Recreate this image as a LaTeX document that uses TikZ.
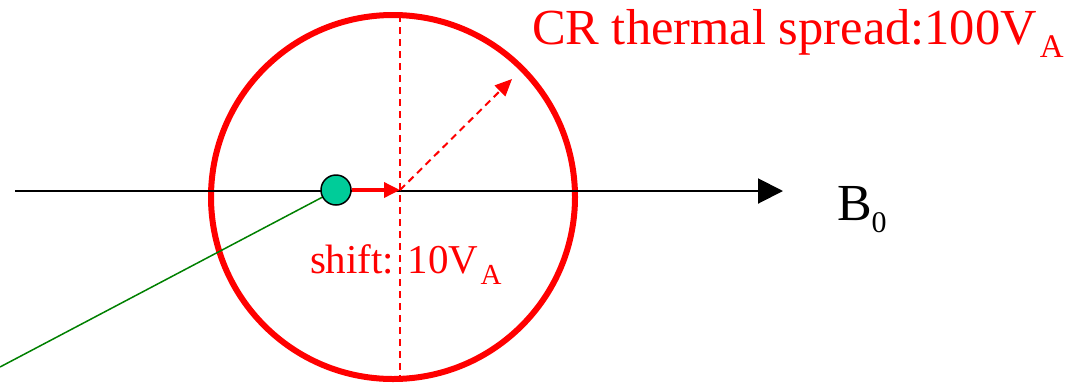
\documentclass[tikz,border=0pt]{standalone}
\usepackage{fontspec}
\setmainfont{Liberation Serif}
\usetikzlibrary{arrows.meta}
\definecolor{dotgreen}{RGB}{0,204,153}
\definecolor{linegreen}{RGB}{0,128,0}
\begin{document}
\begin{tikzpicture}[x=1pt,y=-1pt,
  lbl/.style={anchor=base west, inner sep=0pt, outer sep=0pt},
  redtext/.style={lbl, text=red},
  axis/.style={line width=2pt, -{Triangle[length=25pt,width=25pt]}},
  shiftarrow/.style={red, line width=3.5pt, -{Triangle[length=16pt,width=15pt]}},
  spreadarrow/.style={red, line width=2pt, dash pattern=on 7pt off 5pt, -{Triangle[length=17pt,width=15pt]}},
  guide/.style={red, line width=2pt, dash pattern=on 7pt off 5pt},
]
\useasboundingbox (0,0) rectangle (1070,384);
% circle
\node[circle, draw=red, line width=6pt, minimum size=364pt, inner sep=0pt] (cr) at (393,197) {};
% guide line
\coordinate (gtop) at (400,15);
\coordinate (gbot) at (400,378);
\draw[guide] (gtop) -- (gbot);
% axis
\coordinate (axstart) at (15,191);
\coordinate (axend) at (783,191);
\draw[axis] (axstart) -- (axend);
% green line
\coordinate (gend) at (0,367);
\draw[linegreen, line width=1.5pt] (336,190) -- (gend);
% dot
\node[circle, draw=black, line width=1.5pt, fill=dotgreen, minimum size=30pt, inner sep=0pt] (dot) at (336,190) {};
% arrows
\coordinate (o) at (400,190);
\coordinate (tipd) at (512,79);
\draw[spreadarrow] (o) -- (tipd);
\draw[shiftarrow] (dot.east) -- (o);
% labels
\node[redtext] (crlbl) at (532,44) {\fontsize{50.5}{50.5}\selectfont CR thermal spread:100V\kern3pt\raisebox{-13pt}{\fontsize{33}{33}\selectfont A}};
\node[redtext] (shiftlbl) at (310,273) {\fontsize{41}{41}\selectfont shift: 10V\kern2pt\raisebox{-11pt}{\fontsize{29}{29}\selectfont A}};
\node[lbl] (blbl) at (837,220) {\fontsize{52}{52}\selectfont B\raisebox{-12pt}{\fontsize{30}{30}\selectfont 0}};
\end{tikzpicture}
\end{document}
